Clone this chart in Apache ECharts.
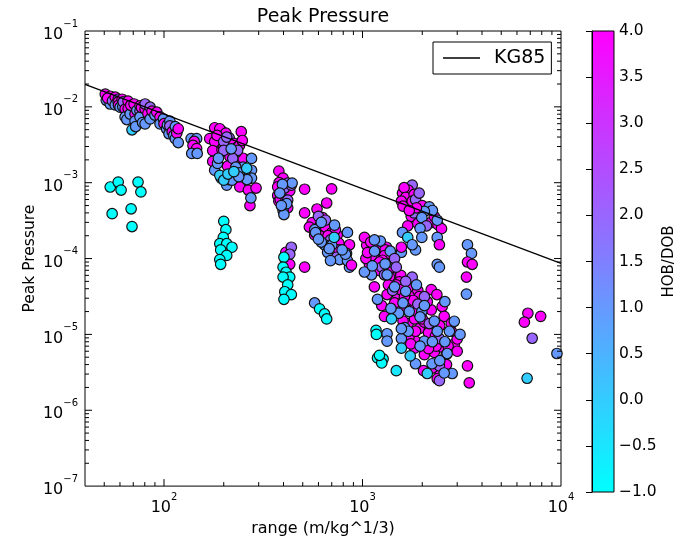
<!DOCTYPE html>
<html><head><meta charset="utf-8">
<script src="https://cdn.jsdelivr.net/npm/echarts@6/dist/echarts.min.js"></script>
<style>html,body{margin:0;padding:0;background:#fff}#c{width:685px;height:542px}</style>
</head><body><div id="c"></div>
<script>
// ---- data: [range (m/kg^1/3), peak pressure, HOB/DOB] ----
const nearFieldBand = [[50.6,1.47e-2,4],[51.2,1.22e-2,1],[53.6,1.38e-2,4],[53.6,1.09e-2,1],[52,1.3e-2,4],[55,1.2e-2,2],[56.8,1.34e-2,4],[56.8,1.06e-2,1],[58.8,1.26e-2,2],[58.8,1.16e-2,4],[59,1.05e-2,4],[60.1,9.9e-3,1],[61.5,1.26e-2,4],[62,1.0e-2,1],[62.3,1.16e-2,2],[63.7,9.35e-3,4],[63.7,7.36e-3,1],[65,6.8e-3,1],[65.9,1.19e-2,4],[66,9.5e-3,4],[67.5,8.05e-3,1],[68,1.05e-2,4],[69,4.98e-3,0],[70.7,1.09e-2,4],[71.5,8.05e-3,4],[71.5,6.5e-3,1],[72,5.5e-3,1],[73,9.0e-3,1],[75.7,1.03e-2,4],[75.7,8.8e-3,2],[75.7,7.36e-3,1],[77,9.8e-3,4],[78,6.2e-3,1],[80.3,9.35e-3,4],[80.3,1.09e-2,2],[80.3,5.97e-3,1],[83,8.2e-3,4],[85.1,9.9e-3,2],[85.1,6.93e-3,1],[87,8.8e-3,4],[90,7.8e-3,1],[92,8.5e-3,4],[95.5,7.36e-3,4],[95.5,5.97e-3,1],[99.3,6.93e-3,1],[100,6.0e-3,4],[103,5.14e-3,1],[104,5.8e-3,1],[106,4.42e-3,1],[107,6.5e-3,1],[107,5.6e-3,2],[110,4.7e-3,4],[112,4.2e-3,1],[114,5.5e-3,1],[114,3.81e-3,1],[116,4.5e-3,4],[118,5.14e-3,4],[118,3.38e-3,1],[137,3.81e-3,1],[146,3.81e-3,1],[142,3.5e-3,4],[140,3.1e-3,4],[146,2.82e-3,4],[138,2.43e-3,1],[147,2.43e-3,1]];
const nearFieldLow = [[53.6,8.77e-4,-1],[58.8,1.02e-3,-1],[60.8,8.0e-4,-1],[74,1.02e-3,-1],[76.5,7.55e-4,-1],[54.8,3.9e-4,-1],[68.3,4.53e-4,-1],[69,2.64e-4,-1]];
const group200 = [[180,5.3e-3,4],[195,4.83e-3,4],[191,5.14e-3,4],[205,4.5e-3,4],[170,3.81e-3,4],[180,3.48e-3,4],[213,3.9e-3,2],[176,2.65e-3,4],[196,2.7e-3,4],[176,1.91e-3,4],[207,2.58e-3,4],[225,3.3e-3,4],[232,2.9e-3,4],[240,3.1e-3,4],[245,4.7e-3,4],[248,3.6e-3,4],[235,2.3e-3,4],[227,1.91e-3,4],[245,1.91e-3,4],[241,8.8e-4,4],[271,5.0e-4,4],[266,8.0e-4,4],[291,8.5e-4,4],[185,4.2e-3,4],[200,3.0e-3,4],[215,2.2e-3,4],[250,2.1e-3,4],[209,1.65e-3,4],[200,3.48e-3,2],[200,2.67e-3,2],[230,2.5e-3,2],[235,2.67e-3,2],[222,2.09e-3,2],[207,4.0e-3,2],[218,2.8e-3,1],[180,1.46e-3,1],[194,1.15e-3,1],[207,9.3e-4,1],[212,1.1e-3,1],[276,2.09e-3,1],[276,1.46e-3,1],[276,1.15e-3,1],[274,6.3e-4,1],[220,1.08e-3,1],[255,1.25e-3,1],[250,1.6e-3,1],[262,1.1e-3,1],[186,1.8e-3,1],[188,2.1e-3,1],[230,1.6e-3,1],[240,1.35e-3,1],[238,1.2e-3,1],[191,1.25e-3,0],[261,1.55e-3,0],[200,1.08e-3,0],[210,1.3e-3,0],[225,1.4e-3,0]];
const group200Low = [[200,3.1e-4,-1],[205,2.4e-4,-1],[199,1.9e-4,-1],[191,1.57e-4,-1],[207,1.57e-4,-1],[220,1.41e-4,-1],[193,1.3e-4,-1],[207,1.1e-4,-1],[191,9.7e-5,-1],[193,8.4e-5,-1]];
const group400 = [[379,1.42e-3,4],[398,1.15e-3,4],[380,1.0e-3,4],[374,8.8e-4,4],[374,6.8e-4,4],[379,5.7e-4,4],[385,6.0e-4,4],[420,4.67e-4,4],[411,6.3e-4,4],[430,7.8e-4,4],[511,8.2e-4,4],[511,4.0e-4,4],[699,8.3e-4,4],[420,9.9e-4,2],[405,8.5e-4,2],[420,5.9e-4,2],[438,9.3e-4,2],[398,4.3e-4,1],[402,3.8e-4,1],[415,5.3e-4,1],[442,9.9e-4,1],[395,9.5e-4,1],[383,7.3e-4,1],[390,5.0e-4,1]];
const group400Low = [[411,1.21e-4,4],[438,1.41e-4,2],[430,1.14e-4,2],[430,8.4e-5,4],[402,1.04e-4,-1],[398,7.7e-5,-1],[412,6.6e-5,-1],[430,5.7e-5,-1],[398,5.7e-5,-1],[420,4.5e-5,-1],[406,3.65e-5,-1],[438,3.35e-5,-1],[402,2.9e-5,-1],[511,7.7e-5,4],[574,2.6e-5,1],[608,2.17e-5,-1],[644,1.86e-5,-1],[660,1.6e-5,-1]];
const group700 = [[660,5.4e-4,4],[590,4.5e-4,4],[630,3.46e-4,4],[558,2.98e-4,4],[540,2.6e-4,4],[630,2.37e-4,4],[746,2.05e-4,4],[860,1.52e-4,4],[574,2.05e-4,4],[610,2.7e-4,4],[650,2.6e-4,4],[700,2.2e-4,4],[730,2.4e-4,4],[670,2.0e-4,4],[760,1.6e-4,4],[760,1.3e-4,4],[600,3.6e-4,2],[651,3.2e-4,2],[690,1.76e-4,2],[740,1.04e-4,2],[574,2.4e-4,1],[580,2.2e-4,1],[644,1.52e-4,1],[620,1.65e-4,1],[667,1.21e-4,1],[700,1.5e-4,1],[723,2.76e-4,1],[840,2.21e-4,1],[831,1.17e-4,1],[810,1.0e-4,1],[860,7.7e-5,1],[766,9.7e-5,1],[690,9.4e-5,1],[840,9.4e-5,1],[821,1.14e-4,1],[600,1.8e-4,1],[680,1.35e-4,1],[790,1.3e-4,1],[620,3.0e-4,1],[720,1.9e-4,0],[880,8.2e-5,4]];
const group2000Upper = [[1780,9.3e-4,2],[1590,7.3e-4,4],[1700,8.0e-4,4],[1620,8.6e-4,4],[1650,6.4e-4,4],[1820,7.0e-4,4],[1570,5.7e-4,4],[1780,5.7e-4,4],[1850,6.0e-4,2],[1600,4.9e-4,4],[2000,5.0e-4,4],[1760,3.6e-4,4],[1820,4.0e-4,2],[1970,3.2e-4,4],[2210,2.98e-4,4],[2300,3.6e-4,4],[2400,2.8e-4,4],[2500,2.48e-4,4],[1690,2.7e-4,4],[1900,2.9e-4,4],[2170,4.8e-4,1],[2250,4.3e-4,1],[2050,4.2e-4,1],[2380,3.2e-4,1],[1990,3.46e-4,1],[2100,2.7e-4,2],[1950,2.5e-4,1],[1590,2.21e-4,1],[1690,1.9e-4,0],[1990,1.9e-4,1],[2380,1.9e-4,1],[2440,1.52e-4,4],[1850,1.3e-4,1],[1570,1.21e-4,1],[2380,8.4e-5,1],[1870,4.67e-4,4],[1930,7.3e-4,2],[1720,4.3e-4,4],[3380,1.52e-4,1],[3540,1.17e-4,1],[3380,9.0e-5,4],[3570,8.4e-5,4],[3340,5.7e-5,4],[3340,3.4e-5,1]];
const group2000Lower = [[1084,1.41e-4,4],[1050,1.5e-4,4],[1190,1.41e-4,4],[1320,1.41e-4,4],[1300,1.3e-4,4],[1084,8.4e-5,4],[1290,1.09e-4,4],[1570,1.41e-4,4],[1230,1.7e-4,1],[1380,1.25e-4,1],[1450,1.0e-4,2],[1130,1.05e-4,2],[1180,9.5e-5,4],[1260,9.5e-5,4],[1350,7.5e-5,1],[1148,4.24e-5,4],[1330,3.35e-5,4],[1500,3.35e-5,4],[1830,3.35e-5,4],[1500,2.5e-5,4],[1290,1.73e-5,4],[1450,1.86e-5,4],[1630,2.17e-5,4],[1780,2.33e-5,4],[2220,3.9e-5,4],[2370,3.35e-5,4],[2220,2.1e-5,4],[2520,2.33e-5,4],[1700,1.39e-5,4],[1830,1.6e-5,4],[1930,1.19e-5,4],[2170,1.28e-5,4],[1850,8.15e-6,4],[1830,6.6e-6,4],[2050,5.4e-6,4],[2300,5.8e-6,4],[2520,6.8e-6,4],[2900,7.5e-6,4],[3000,8.7e-6,4],[2030,3.32e-6,4],[2440,3.32e-6,4],[3450,2.3e-6,4],[3380,3.85e-6,4],[2380,2.6e-6,4],[1217,9.0e-5,4],[1400,6.65e-5,4],[1420,5.6e-5,4],[1560,6.0e-5,4],[1535,4.93e-5,4],[1480,4.5e-5,4],[1550,3.9e-5,4],[1720,4.24e-5,4],[1900,3.8e-5,4],[1930,3.14e-5,4],[2120,2.7e-5,4],[1700,2.8e-5,4],[1800,2.8e-5,4],[1880,2.0e-5,4],[1367,5.7e-5,4],[1626,3.14e-5,4],[2580,1.73e-5,4],[2800,1.1e-5,4],[2800,1.4e-5,4],[2450,1.3e-5,4],[2050,1.45e-5,4],[2150,1.05e-5,4],[2330,9.5e-6,4],[1720,9.5e-6,4],[1850,1.1e-5,4],[1600,1.5e-5,4],[1750,7.5e-6,4],[2350,7.0e-6,4],[2150,6.5e-6,4],[2700,7.0e-6,4],[2640,5.4e-6,4],[2650,4.0e-6,4],[2250,3.6e-6,4],[3000,6.0e-6,4],[1110,1.09e-4,4],[1023,1.9e-4,4],[1040,1.0e-4,4],[1060,1.2e-4,4],[1100,1.65e-4,4],[1200,7.0e-5,4],[1350,4.5e-5,4],[2000,1.6e-5,4],[1450,2.6e-5,4],[1250,2.4e-5,4],[1250,7.7e-5,2],[1290,6.1e-5,2],[1480,7.7e-5,2],[1780,5.7e-5,2],[1650,5.0e-5,2],[2170,1.39e-5,2],[2440,8.8e-6,2],[2440,2.46e-6,2],[2440,3.85e-6,2],[2050,3.14e-5,2],[1420,3.8e-5,2],[1900,2.5e-5,2],[1148,1.76e-4,1],[1110,6.1e-5,1],[1330,6.1e-5,1],[1190,2.9e-5,1],[1720,2.0e-5,1],[1990,2.0e-5,1],[1630,1.23e-5,1],[2050,8.15e-6,1],[2380,1.1e-5,1],[2740,1.1e-5,1],[1570,8.8e-6,1],[1700,1.1e-5,1],[2830,3.05e-6,1],[2670,5.6e-6,1],[2240,4.1e-6,1],[1850,4.1e-6,1],[1330,1.02e-5,1],[1330,8.15e-6,1],[1570,1.19e-5,1],[1780,1.52e-4,1],[2440,7.7e-5,1],[2580,3.1e-6,1],[1450,4.24e-5,1],[1870,4.5e-5,1],[1650,3.7e-5,1],[2900,1.49e-5,1],[1023,6.65e-5,1],[1150,1.25e-4,1],[1120,8.0e-5,1],[1300,8.5e-5,1],[1600,2.6e-5,1],[2600,2.7e-5,1],[2050,2.4e-5,1],[2300,1.5e-5,1],[1950,1.7e-5,1],[1520,1.9e-5,1],[1390,2.2e-5,1],[2250,8.0e-6,1],[1950,7.0e-6,1],[2600,8.0e-6,1],[3100,1.0e-5,1],[2450,4.5e-6,1],[1400,1.6e-5,0],[1570,6.6e-6,0],[2120,3.05e-6,0],[1740,5.2e-6,0],[1170,1.13e-5,-1],[1175,1.0e-5,-1],[1190,4.9e-6,-1],[1270,4.75e-6,-1],[1250,4.2e-6,-1],[1217,5.3e-6,-1],[1480,3.32e-6,-0.5]];
const farField = [[6810,1.9e-5,4],[6540,1.45e-5,4],[7900,1.73e-5,4],[7160,8.9e-6,2],[6750,2.64e-6,0],[9540,5.6e-6,1]];

const kgRange = [40, 10000];
const kgPressure = [0.0198, 8.63e-5];

const xMajorTicks = [100, 1000];
const xMinorTicks = [50,60,70,80,90,200,300,400,500,600,700,800,900,2000,3000,4000,5000,6000,7000,8000,9000];
const yMajorTicks = [1e-6,1e-5,1e-4,1e-3,1e-2];
const yMinorTicks = [2e-7,3e-7,4e-7,5e-7,6e-7,7e-7,8e-7,9e-7,2e-6,3e-6,4e-6,5e-6,6e-6,7e-6,8e-6,9e-6,2e-5,3e-5,4e-5,5e-5,6e-5,7e-5,8e-5,9e-5,2e-4,3e-4,4e-4,5e-4,6e-4,7e-4,8e-4,9e-4,2e-3,3e-3,4e-3,5e-3,6e-3,7e-3,8e-3,9e-3,2e-2,3e-2,4e-2,5e-2,6e-2,7e-2,8e-2,9e-2];

const FONT = 'DejaVu Sans';
const points = [].concat(nearFieldBand, nearFieldLow, group200, group200Low, group400, group400Low, group700, group2000Upper, group2000Lower, farField);

function powLabel(v) {
  const e = Math.log10(v);
  if (Math.abs(e - Math.round(e)) > 1e-6) return '';
  const n = Math.round(e);
  return '{b|10}{e|' + String(n).replace('-', '\u2212') + '}';
}
const richPow = {
  b: {fontFamily: FONT, fontSize: 16, lineHeight: 24, verticalAlign: 'bottom', color: '#000'},
  e: {fontFamily: FONT, fontSize: 10, lineHeight: 12, verticalAlign: 'top', color: '#000'}
};

const xTickData = xMajorTicks.map(v => [v, 1e-4, 7]).concat(xMinorTicks.map(v => [v, 1e-4, 4]));
const yTickData = yMajorTicks.map(v => [100, v, 7]).concat(yMinorTicks.map(v => [100, v, 4]));

const chart = echarts.init(document.getElementById('c'), null, {renderer: 'canvas'});
chart.setOption({
  animation: false,
  backgroundColor: '#fff',
  textStyle: {fontFamily: FONT},
  title: {text: 'Peak Pressure', left: 323, top: 8, padding: 0, textAlign: 'center',
          textStyle: {fontFamily: FONT, fontSize: 19, fontWeight: 'normal', color: '#000'}},
  legend: {data: ['KG85'], left: 433, top: 42, padding: [6, 6, 6, 10], itemWidth: 37, itemHeight: 1.5, icon: 'rect',
           borderColor: '#000', borderWidth: 1, borderRadius: 0, backgroundColor: '#fff', selectedMode: false,
           itemStyle: {color: '#000', borderWidth: 0},
           textStyle: {fontFamily: FONT, fontSize: 19, lineHeight: 20, color: '#000', padding: [0, 0, 0, 9]}},
  visualMap: {type: 'continuous', min: -1, max: 4, dimension: 2, seriesIndex: 0, show: false,
              inRange: {color: ['#00ffff', '#ff00ff']}},
  grid: [
    {left: 85, top: 31, width: 476, height: 461, show: true, borderColor: '#000', borderWidth: 1, backgroundColor: '#fff', containLabel: false},
    {left: 592, top: 31, width: 22, height: 461, show: true, borderColor: '#000', borderWidth: 1,
     backgroundColor: new echarts.graphic.LinearGradient(0, 0, 0, 1, [{offset: 0, color: '#ff00ff'}, {offset: 1, color: '#00ffff'}])}
  ],
  xAxis: [
    {type: 'log', logBase: 10, min: 40, max: 10000, gridIndex: 0,
     axisLine: {show: false}, axisTick: {show: false}, splitLine: {show: false}, minorTick: {show: false},
     axisLabel: {formatter: powLabel, rich: richPow, margin: 6, showMinLabel: true, showMaxLabel: true},
     name: 'range (m/kg^1/3)', nameLocation: 'middle', nameGap: 31,
     nameTextStyle: {fontFamily: FONT, fontSize: 16, color: '#000'}},
    {type: 'value', gridIndex: 1, min: 0, max: 1, show: false}
  ],
  yAxis: [
    {type: 'log', logBase: 10, min: 1e-7, max: 1e-1, gridIndex: 0,
     axisLine: {show: false}, axisTick: {show: false}, splitLine: {show: false}, minorTick: {show: false},
     axisLabel: {formatter: powLabel, rich: richPow, margin: 7},
     name: 'Peak Pressure', nameLocation: 'middle', nameGap: 47, nameMoveOverlap: false,
     nameTextStyle: {fontFamily: FONT, fontSize: 15.5, color: '#000'}},
    {type: 'value', gridIndex: 1, min: -1, max: 4, interval: 0.5, position: 'right',
     axisLine: {show: true, lineStyle: {color: '#000', width: 1}},
     axisTick: {show: true, inside: true, length: 6, lineStyle: {color: '#000'}},
     splitLine: {show: false},
     axisLabel: {fontFamily: FONT, fontSize: 15.5, color: '#000', margin: 5,
                 formatter: v => v.toFixed(1).replace('-', '\u2212')},
     name: 'HOB/DOB', nameLocation: 'middle', nameGap: 48, nameRotate: 90,
     nameTextStyle: {fontFamily: FONT, fontSize: 15, color: '#000'}}
  ],
  series: [
    {type: 'scatter', name: 'pts', xAxisIndex: 0, yAxisIndex: 0, data: points, symbol: 'circle', symbolSize: 10.5,
     itemStyle: {borderColor: '#111', borderWidth: 1.2, opacity: 1}, z: 3},
    {type: 'line', name: 'KG85', xAxisIndex: 0, yAxisIndex: 0, data: kgRange.map((x, i) => [x, kgPressure[i]]),
     symbol: 'none', lineStyle: {color: '#000', width: 1.2}, itemStyle: {color: '#000'}, z: 4},
    {type: 'custom', xAxisIndex: 0, yAxisIndex: 0, data: xTickData, silent: true, z: 5,
     renderItem: function (params, api) {
       const v = api.value(0), len = api.value(2);
       const b = api.coord([v, 1e-7]), t = api.coord([v, 1e-1]);
       return {type: 'group', children: [
         {type: 'line', shape: {x1: b[0], y1: b[1], x2: b[0], y2: b[1] - len}, style: {stroke: '#000', lineWidth: 1}},
         {type: 'line', shape: {x1: t[0], y1: t[1], x2: t[0], y2: t[1] + len}, style: {stroke: '#000', lineWidth: 1}}
       ]};
     }},
    {type: 'custom', xAxisIndex: 0, yAxisIndex: 0, data: yTickData, silent: true, z: 5,
     renderItem: function (params, api) {
       const v = api.value(1), len = api.value(2);
       const l = api.coord([40, v]), r = api.coord([10000, v]);
       return {type: 'group', children: [
         {type: 'line', shape: {x1: l[0], y1: l[1], x2: l[0] + len, y2: l[1]}, style: {stroke: '#000', lineWidth: 1}},
         {type: 'line', shape: {x1: r[0], y1: r[1], x2: r[0] - len, y2: r[1]}, style: {stroke: '#000', lineWidth: 1}}
       ]};
     }}
  ]
});
</script></body></html>
